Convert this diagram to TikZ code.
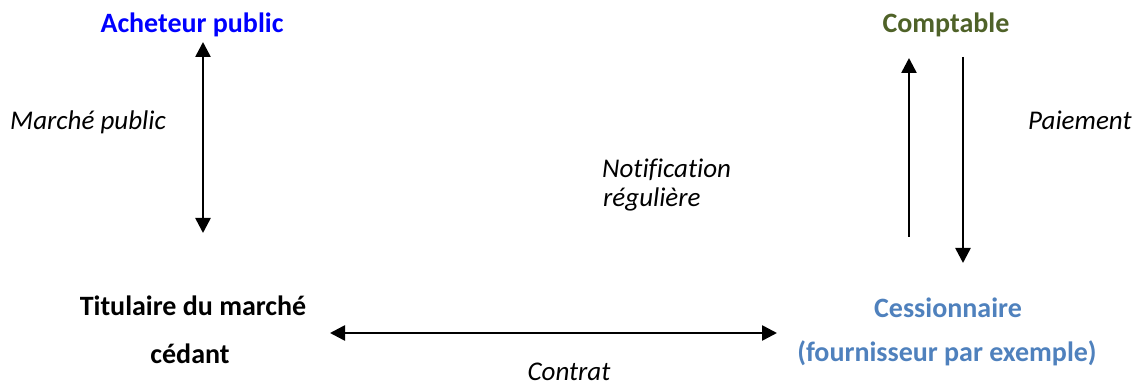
\documentclass[tikz,border=0pt]{standalone}
\usepackage{fontspec}
\setmainfont[Ligatures=NoCommon]{Carlito}
\usetikzlibrary{arrows.meta}
\definecolor{achblue}{RGB}{0,0,255}
\definecolor{comptolive}{RGB}{79,98,40}
\definecolor{cessblue}{RGB}{79,129,189}
\begin{document}
\begin{tikzpicture}[x=1pt,y=-1pt,
  lbl/.style={inner sep=0pt,anchor=base,font=\fontsize{28}{32}\selectfont\bfseries},
  itl/.style={inner sep=0pt,anchor=base west,font=\fontsize{27}{31}\selectfont\itshape},
  conn/.style={line width=2.6pt,-{Triangle[length=15pt,width=15pt]}},
  dconn/.style={line width=2.6pt,{Triangle[length=15pt,width=15pt]}-{Triangle[length=15pt,width=15pt]}}]
\useasboundingbox (0,0) rectangle (1133,387);
% text nodes
\node[lbl,text=achblue] (acheteur) at (192,33) {Acheteur public};
\node[lbl,text=comptolive] (comptable) at (946,33) {Comptable};
\node[lbl] (titulaire) at (193,316) {Titulaire du marché};
\node[lbl] (cedant) at (190,363) {cédant};
\node[lbl,text=cessblue] (cession) at (948,318) {Cessionnaire};
\node[lbl,text=cessblue] (fourn) at (947,362) {(fournisseur par exemple)};
\node[itl] (marche) at (10,130) {Marché public};
\node[itl] (paiement) at (1028,130) {Paiement};
\node[itl] (notif) at (602,178) {Notification};
\node[itl] (reguliere) at (603,207) {régulière};
\node[inner sep=0pt,anchor=base,font=\fontsize{27}{31}\selectfont\itshape] (contrat) at (569,381) {Contrat};
% connector ends
\coordinate (a1) at (203,42);
\coordinate (a2) at (203,233);
\coordinate (u1) at (909,237);
\coordinate (u2) at (909,58);
\coordinate (d1) at (963,57);
\coordinate (d2) at (963,263);
\coordinate (h1) at (330,333);
\coordinate (h2) at (777,333);
% connectors
\draw[dconn] (a1) -- (a2);
\draw[conn] (u1) -- (u2);
\draw[conn] (d1) -- (d2);
\draw[dconn] (h1) -- (h2);
\end{tikzpicture}
\end{document}
